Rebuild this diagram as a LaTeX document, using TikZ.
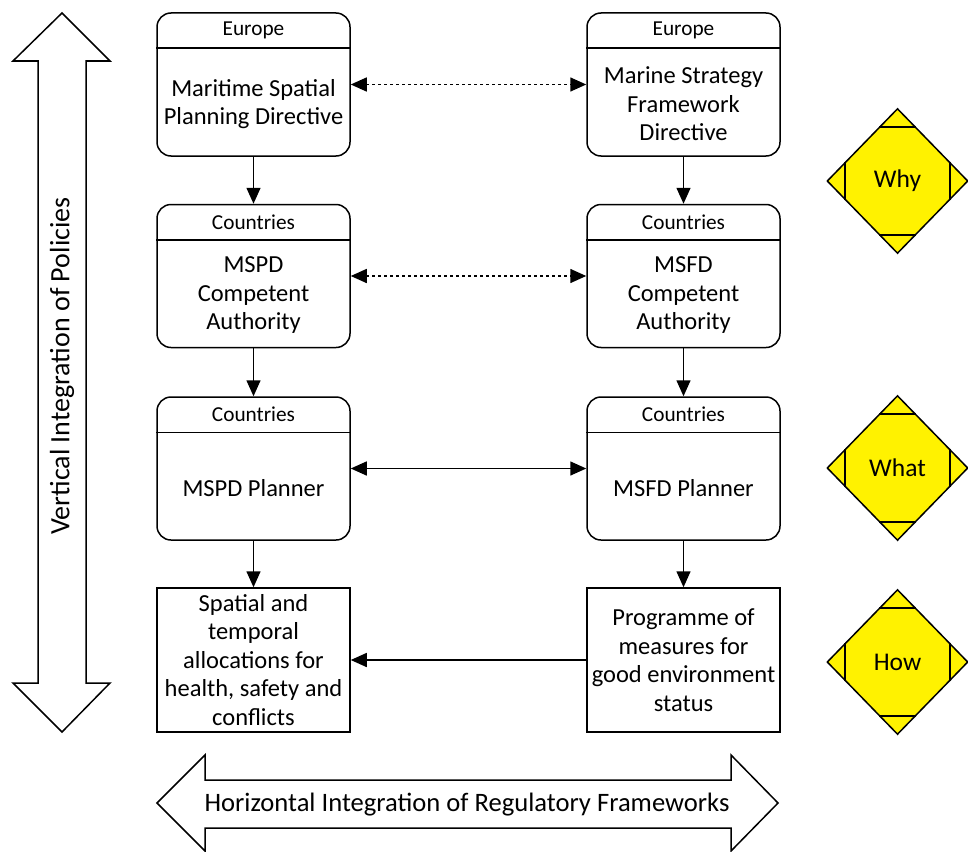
\documentclass[tikz,border=0pt]{standalone}
\usepackage{fontspec}
\setmainfont{Carlito}
\usetikzlibrary{shapes.geometric,arrows.meta,calc}

\tikzset{
  lw/.style={line width=1.5pt},
  rbox/.style={draw, lw, rounded corners=14pt, minimum width=193pt,
    minimum height=143pt, inner sep=0pt},
  pbox/.style={draw, lw, minimum width=193pt, minimum height=144pt,
    align=center, inner sep=0pt, font=\fontsize{24.5}{28.5}\selectfont},
  headtext/.style={inner sep=0pt, font=\fontsize{21.3}{24}\selectfont},
  bodytext/.style={inner sep=0pt, align=center, font=\fontsize{24.5}{28.5}\selectfont},
  tip/.tip={Triangle[length=16pt,width=14pt]},
  link/.style={lw, -tip},
  twoway/.style={lw, tip-tip},
  dotway/.style={twoway, dash pattern=on 3pt off 3pt},
  tag/.style={diamond, draw, lw, fill=yellow, minimum width=141pt,
    minimum height=145pt, inner sep=0pt, font=\fontsize{25.5}{28}\selectfont},
  bigarrow/.style={draw, lw, line join=miter},
  arrowtext/.style={inner sep=0pt, font=\fontsize{26.6}{30}\selectfont}
}

% rounded box with a header band: name, centre, header, body
\newcommand{\headedbox}[4]{%
  \node[rbox] (#1) at #2 {};
  \draw[lw] ($(#1.north west)+(0,36)$) -- ($(#1.north east)+(0,36)$);
  \node[headtext] (#1-head) at ($(#1.north)+(0,18)$) {#3};
  \node[bodytext] (#1-body) at ($(#1.center)+(0,19.5)$) {#4};
}

% yellow diamond with its four corners cut off by short bars
\newcommand{\tagdiamond}[3]{%
  \node[tag] (#1) at #2 {#3};
  \draw[lw] ($(#1.north)!0.26!(#1.west)$) -- ($(#1.north)!0.26!(#1.east)$);
  \draw[lw] ($(#1.south)!0.26!(#1.west)$) -- ($(#1.south)!0.26!(#1.east)$);
  \draw[lw] ($(#1.west)!0.26!(#1.north)$) -- ($(#1.west)!0.26!(#1.south)$);
  \draw[lw] ($(#1.east)!0.26!(#1.north)$) -- ($(#1.east)!0.26!(#1.south)$);
}

\begin{document}
\begin{tikzpicture}[x=1pt,y=-1pt]
\useasboundingbox (0,0) rectangle (968,851);

% vertical integration arrow
\draw[bigarrow] (62,13) -- (110,61) -- (86,61) -- (86,683) -- (110,683)
  -- (62,732) -- (13,683) -- (38,683) -- (38,61) -- (13,61) -- cycle;
\node[arrowtext, font=\fontsize{28}{30}\selectfont, rotate=90] (vlabel) at (62,366) {Vertical Integration of Policies};

% horizontal integration arrow
\draw[bigarrow] (157,803) -- (205,755) -- (205,780) -- (731,780) -- (731,755)
  -- (778,803) -- (731,851) -- (731,828) -- (205,828) -- (205,851) -- cycle;
\node[arrowtext] (hlabel) at (467,805) {Horizontal Integration of Regulatory Frameworks};

% left column
\headedbox{mspd}{(253.5,84.5)}{Europe}{Maritime Spatial\\Planning Directive}
\headedbox{mspdca}{(253.5,276)}{Countries}{MSPD\\Competent\\Authority}
\headedbox{mspdpl}{(253.5,468.5)}{Countries}{MSPD Planner}
\node[pbox] (alloc) at (253.5,660) {Spatial and\\temporal\\allocations for\\health, safety and\\conflicts};

% right column
\headedbox{msfd}{(683.5,84.5)}{Europe}{Marine Strategy\\Framework\\Directive}
\headedbox{msfdca}{(683.5,276)}{Countries}{MSFD\\Competent\\Authority}
\headedbox{msfdpl}{(683.5,468.5)}{Countries}{MSFD Planner}
\node[pbox] (prog) at (683.5,660) {Programme of\\measures for\\good environment\\status};

% vertical links
\draw[link] (mspd) -- (mspdca);
\draw[link] (mspdca) -- (mspdpl);
\draw[link] (mspdpl) -- (alloc);
\draw[link] (msfd) -- (msfdca);
\draw[link] (msfdca) -- (msfdpl);
\draw[link] (msfdpl) -- (prog);

% horizontal links
\draw[dotway] (mspd) -- (msfd);
\draw[dotway] (mspdca) -- (msfdca);
\draw[twoway] (mspdpl) -- (msfdpl);
\draw[link] (prog) -- (alloc);

% why / what / how markers
\tagdiamond{why}{(897.5,181)}{Why}
\tagdiamond{what}{(897.5,468)}{What}
\tagdiamond{how}{(897.5,662)}{How}
\end{tikzpicture}
\end{document}
